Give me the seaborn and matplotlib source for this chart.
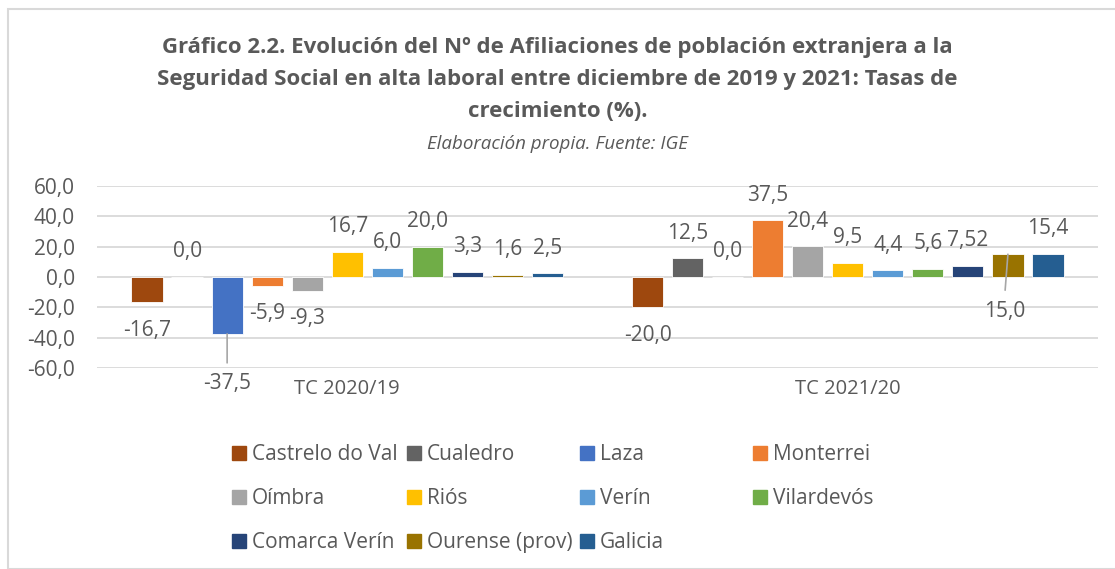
import pandas as pd
import matplotlib.pyplot as plt
import seaborn as sns
from matplotlib.patches import Rectangle

periods = ['TC 2020/19', 'TC 2021/20']
places = ['Castrelo do Val', 'Cualedro', 'Laza', 'Monterrei', 'Oímbra', 'Riós',
          'Verín', 'Vilardevós', 'Comarca Verín', 'Ourense (prov)', 'Galicia']
tc_2020_19 = [-16.7, 0.0, -37.5, -5.9, -9.3, 16.7, 6.0, 20.0, 3.3, 1.6, 2.5]
tc_2021_20 = [-20.0, 12.5, 0.0, 37.5, 20.4, 9.5, 4.4, 5.6, 7.52, 15.0, 15.4]
label_text_2020_19 = ['-16,7', '0,0', '-37,5', '-5,9', '-9,3', '16,7', '6,0', '20,0', '3,3', '1,6', '2,5']
label_text_2021_20 = ['-20,0', '12,5', '0,0', '37,5', '20,4', '9,5', '4,4', '5,6', '7,52', '15,0', '15,4']
colors = ['#9E480E', '#636363', '#4472C4', '#ED7D31', '#A5A5A5', '#FFC000',
          '#5B9BD5', '#70AD47', '#264478', '#997300', '#255E91']

df = pd.DataFrame({
    'periodo': [periods[0]] * len(places) + [periods[1]] * len(places),
    'lugar': places * 2,
    'tasa': tc_2020_19 + tc_2021_20,
    'etiqueta': label_text_2020_19 + label_text_2021_20,
})

sns.set_style('white')
plt.rcParams['font.family'] = ['Open Sans', 'DejaVu Sans']
txt = '#595959'

fig = plt.figure(figsize=(11.15, 5.69), dpi=100)
ax = fig.add_axes([97 / 1115, 1 - 368 / 569, 1001 / 1115, 182 / 569])

sns.barplot(data=df, x='periodo', y='tasa', hue='lugar', hue_order=places,
            palette=colors, saturation=1, width=0.88, gap=0.22, ax=ax, legend=False,
            edgecolor='white', linewidth=0.6)

ax.set_ylim(-60, 60)
ax.set_yticks(range(-60, 61, 20))
ax.set_yticklabels([f'{v:.1f}'.replace('.', ',') for v in range(-60, 61, 20)],
                   fontsize=15, color=txt)
ax.tick_params(axis='x', labelsize=14.5, labelcolor=txt, length=0, pad=8)
ax.tick_params(axis='y', length=0, pad=16)
ax.set_xlabel('')
ax.set_ylabel('')
ax.grid(axis='y', color='#D9D9D9', linewidth=1.3)
ax.set_axisbelow(True)
for s in ax.spines.values():
    s.set_visible(False)

# data labels; two of them sit away from the bar with a leader line
special = {('TC 2020/19', 'Laza'): (0, -36), ('TC 2021/20', 'Ourense (prov)'): (-2, -41)}
for k, cont in enumerate(ax.containers):
    place = places[k]
    for j, bar in enumerate(cont):
        row = df[(df['periodo'] == periods[j]) & (df['lugar'] == place)].iloc[0]
        v = row['tasa']
        xc = bar.get_x() + bar.get_width() / 2
        if (periods[j], place) in special:
            ax.annotate(row['etiqueta'], xy=(xc, v), xytext=special[(periods[j], place)],
                        textcoords='offset points', ha='center', va='center',
                        fontsize=15, color=txt,
                        arrowprops=dict(arrowstyle='-', color='#A6A6A6', lw=1.2,
                                        shrinkA=0, shrinkB=0, relpos=(0.5, 1.5)))
        else:
            off = 18 if v >= 0 else -20
            ax.annotate(row['etiqueta'], xy=(xc, v), xytext=(0, off),
                        textcoords='offset points', ha='center', va='center',
                        fontsize=15, color=txt)

fig.text(0.5, 1 - 37 / 569,
         'Gráfico 2.2. Evolución del Nº de Afiliaciones de población extranjera a la\n'
         'Seguridad Social en alta laboral entre diciembre de 2019 y 2021: Tasas de\n'
         'crecimiento (%).',
         ha='center', va='top', fontsize=16, fontweight='bold', color=txt,
         linespacing=1.7)
fig.text(0.5, 1 - 144 / 569, 'Elaboración propia. Fuente: IGE', ha='center', va='center',
         fontsize=13.5, style='italic', color=txt)

# legend: four equal-width columns, filled row by row as in the original
col_x = [222, 397, 570, 743]
for c, x0 in enumerate(col_x):
    idx = list(range(c, len(places), 4))
    handles = [Rectangle((0, 0), 1, 1, color=colors[i]) for i in idx]
    fig.legend(handles, [places[i] for i in idx], loc='upper left',
               bbox_to_anchor=(x0 / 1115, 1 - 434 / 569), frameon=False,
               fontsize=15, labelcolor=txt, handlelength=0.65, handleheight=0.65,
               handletextpad=0.3, labelspacing=1.1, borderpad=0)

fig.patches.append(Rectangle((8 / 1115, 0), 1.1, 1 - 9 / 569, transform=fig.transFigure,
                             fill=False, edgecolor='#D9D9D9', linewidth=1.5))

fig.savefig('out.png', dpi=100)
